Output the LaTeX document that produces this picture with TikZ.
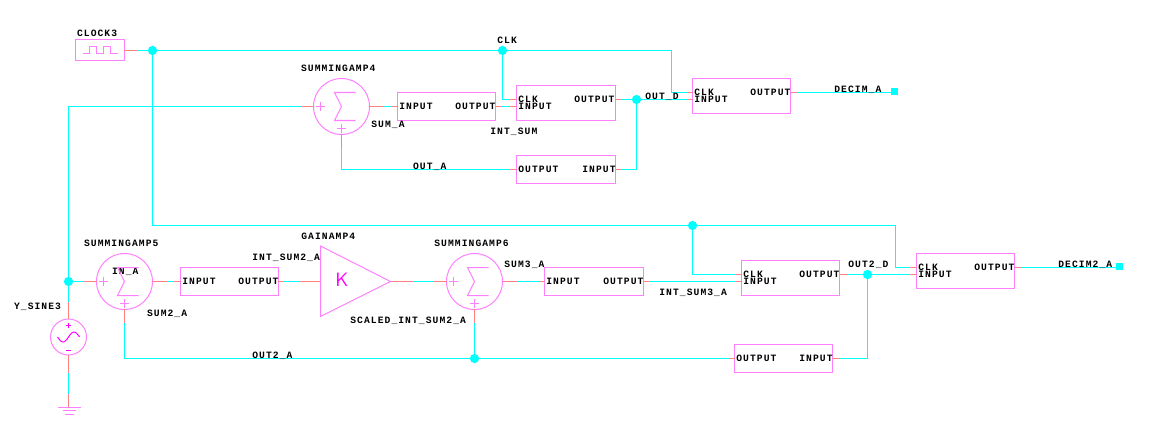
\documentclass[tikz,border=0pt]{standalone}
\usepackage{fontspec}
\setmonofont{Liberation Mono}[LetterSpace=11]
\definecolor{wirecyan}{HTML}{00FFFF}
\definecolor{stubred}{HTML}{FF8080}
\definecolor{partpink}{HTML}{FF80FF}
\definecolor{glyphpink}{HTML}{FF00FF}
\tikzset{
  wire/.style={wirecyan,line width=0.57pt},
  stub/.style={stubred,line width=0.57pt},
  part/.style={partpink,line width=0.57pt},
  blockbox/.style={draw=partpink,line width=0.57pt,inner sep=0pt,outer sep=0pt,minimum width=1.96cm,minimum height=0.56cm},
  regbox/.style={blockbox,minimum height=0.7cm},
  sumring/.style={circle,draw=partpink,line width=0.57pt,inner sep=0pt,outer sep=0pt,minimum size=1.12cm},
  joint/.style={circle,fill=wirecyan,inner sep=0pt,minimum size=0.185cm},
  portend/.style={rectangle,fill=wirecyan,inner sep=0pt,minimum size=0.14cm},
  tag/.style={anchor=west,inner sep=0pt,text height=3.6pt,text depth=0pt,font=\ttfamily\bfseries\fontsize{5.5}{5.5}\selectfont}
}
\begin{document}
\begin{tikzpicture}[x=0.02cm,y=-0.02cm]
  \useasboundingbox (0,0) rectangle (1149,446);

  % Parts, upper row
  \node[blockbox,minimum width=0.98cm,minimum height=0.42cm] (clock) at (100,50) {};
  \node[sumring] (sum4) at (341.5,106.5) {};
  \node[blockbox] (int4) at (446.5,106.5) {};
  \node[regbox,minimum width=1.98cm] (reg1) at (566,103) {};
  \node[blockbox,minimum width=1.98cm] (fb1) at (566,169.5) {};
  \node[regbox] (reg2) at (741.5,96) {};
  \node[portend] (out1) at (894.5,91.5) {};

  % Parts, lower row
  \node[sumring] (sum5) at (124.5,281.5) {};
  \node[blockbox] (int5) at (229.5,281.5) {};
  \node[sumring] (sum6) at (474.5,281.5) {};
  \node[blockbox,minimum width=1.98cm] (int6) at (594,281.5) {};
  \node[regbox] (reg3) at (790.5,278) {};
  \node[blockbox] (fb2) at (783.5,358.5) {};
  \node[regbox] (reg4) at (965.5,271) {};
  \node[portend] (out2) at (1119.5,266.5) {};
  \node[sumring,minimum size=0.72cm] (src) at (68.5,337) {};

  % Junctions
  \node[joint] (jclk1) at (152.5,50.5) {};
  \node[joint] (jclk2) at (502.5,50.5) {};
  \node[joint] (jclk3) at (692.5,225.5) {};
  \node[joint] (jout1) at (636.5,99.5) {};
  \node[joint] (jout2) at (867.5,274.5) {};
  \node[joint] (jfb2) at (474.5,358.5) {};
  \node[joint] (jsrc) at (68.5,281.5) {};

  % Bends and free ends
  \coordinate (bend1) at (671.5,92.5);
  \coordinate (bend2) at (152.5,225.5);
  \coordinate (bend3) at (895.5,267.5);
  \coordinate (bend4) at (124.5,358.5);
  \coordinate (gainin) at (320.5,281.5);
  \coordinate (gainout) at (390.5,281.5);
  \coordinate (gnd) at (68.5,407.5);

  % Pin names
  \node[tag] (i4in) at (399,106.5) {INPUT};
  \node[tag] (i4out) at (455,106.5) {OUTPUT};
  \node[tag] (r1clk) at (518,99.5) {CLK};
  \node[tag] (r1in) at (518,106.5) {INPUT};
  \node[tag] (r1out) at (574,99.5) {OUTPUT};
  \node[tag] (f1out) at (518,169.5) {OUTPUT};
  \node[tag] (f1in) at (582,169.5) {INPUT};
  \node[tag] (r2clk) at (694,92.5) {CLK};
  \node[tag] (r2in) at (694,99.5) {INPUT};
  \node[tag] (r2out) at (750,92.5) {OUTPUT};
  \node[tag] (i5in) at (182,281.5) {INPUT};
  \node[tag] (i5out) at (238,281.5) {OUTPUT};
  \node[tag] (i6in) at (546,281.5) {INPUT};
  \node[tag] (i6out) at (603,281.5) {OUTPUT};
  \node[tag] (r3clk) at (743,274.5) {CLK};
  \node[tag] (r3in) at (743,281.5) {INPUT};
  \node[tag] (r3out) at (799,274.5) {OUTPUT};
  \node[tag] (f2out) at (736,358.5) {OUTPUT};
  \node[tag] (f2in) at (799,358.5) {INPUT};
  \node[tag] (r4clk) at (918,267.5) {CLK};
  \node[tag] (r4in) at (918,274.5) {INPUT};
  \node[tag] (r4out) at (974,267.5) {OUTPUT};

  % Clock net
  \draw[wire] (clock.east |- jclk1) -- (jclk1) -- (jclk2) -| (bend1) -- (reg2.west |- r2clk);
  \draw[wire] (jclk2) |- (reg1.west |- r1clk);
  \draw[wire] (jclk1) -- (bend2) -- (jclk3) -| (bend3) -- (reg4.west |- r4clk);
  \draw[wire] (jclk3) |- (reg3.west |- r3clk);

  % Signal nets, upper row
  \draw[wire] (jsrc) |- (sum4.west);
  \draw[wire] (sum4.east) -- (int4.west);
  \draw[wire] (int4.east) -- (reg1.west |- r1in);
  \draw[wire] (reg1.east |- r1out) -- (jout1) -- (reg2.west |- r2in);
  \draw[wire] (jout1) |- (fb1.east);
  \draw[wire] (fb1.west) -| (sum4.south);
  \draw[wire] (reg2.east |- r2out) -- (out1.west |- r2out);

  % Signal nets, lower row
  \draw[wire] (jsrc) -- (sum5.west);
  \draw[wire] (jsrc) -- (src.north);
  \draw[wire] (src.south) -- (gnd);
  \draw[wire] (sum5.east) -- (int5.west);
  \draw[wire] (int5.east) -- (gainin);
  \draw[wire] (gainout) -- (sum6.west);
  \draw[wire] (sum6.east) -- (int6.west);
  \draw[wire] (int6.east) -- (reg3.west |- r3in);
  \draw[wire] (reg3.east |- r3out) -- (jout2) -- (reg4.west |- r4in);
  \draw[wire] (jout2) |- (fb2.east);
  \draw[wire] (fb2.west) -- (jfb2) -- (bend4) -- (sum5.south);
  \draw[wire] (jfb2) -- (sum6.south);
  \draw[wire] (reg4.east |- r4out) -- (out2.west |- r4out);

  % Red pin stubs
  \draw[stub] (clock.east |- jclk1) -- ++(14,0);
  \draw[stub] (reg2.west |- r2clk) -- ++(-6,0);
  \draw[stub] (reg2.west |- r2in) -- ++(-6,0);
  \draw[stub] (reg1.west |- r1clk) -- ++(-7,0);
  \draw[stub] (reg4.west |- r4clk) -- ++(-7,0);
  \draw[stub] (reg4.west |- r4in) -- ++(-7,0);
  \draw[stub] (reg3.west |- r3clk) -- ++(-6,0);
  \draw[stub] (reg3.west |- r3in) -- ++(-6,0);
  \draw[stub] (sum4.west) -- ++(-13,0);
  \draw[stub] (sum4.east) -- ++(15,0);
  \draw[stub] (int4.west) -- ++(-7,0);
  \draw[stub] (int4.east) -- ++(7,0);
  \draw[stub] (reg1.west |- r1in) -- ++(-7,0);
  \draw[stub] (reg1.east |- r1out) -- ++(6,0);
  \draw[stub] (fb1.east) -- ++(6,0);
  \draw[stub] (fb1.west) -- ++(-7,0);
  \draw[stub] (sum4.south) -- ++(0,15);
  \draw[stub] (reg2.east |- r2out) -- ++(7,0);
  \draw[stub] (sum5.west) -- ++(-14,0);
  \draw[stub] (sum5.east) -- ++(15,0);
  \draw[stub] (int5.west) -- ++(-7,0);
  \draw[stub] (int5.east) -- ++(6,0);
  \draw[stub] (gainin) -- ++(-21,0);
  \draw[stub] (gainout) -- ++(22,0);
  \draw[stub] (sum6.west) -- ++(-13,0);
  \draw[stub] (sum6.east) -- ++(15,0);
  \draw[stub] (int6.west) -- ++(-6,0);
  \draw[stub] (int6.east) -- ++(6,0);
  \draw[stub] (reg3.east |- r3out) -- ++(7,0);
  \draw[stub] (fb2.east) -- ++(7,0);
  \draw[stub] (fb2.west) -- ++(-6,0);
  \draw[stub] (reg4.east |- r4out) -- ++(7,0);
  \draw[stub] (sum5.south) -- ++(0,14);
  \draw[stub] (sum6.south) -- ++(0,14);
  \draw[stub] (src.north) -- ++(0,-17.5);
  \draw[stub] (src.south) -- ++(0,18);
  \draw[stub] (gnd) -- ++(0,-14);

  % Part and net names
  \node[tag] (lclock) at (76.7,33) {CLOCK3};
  \node[tag] (lsum4) at (300.7,68) {SUMMINGAMP4};
  \node[tag] (lsuma) at (371,124) {SUM\_A};
  \node[tag] (lintsum) at (490,131) {INT\_SUM};
  \node[tag] (lclk) at (497,40) {CLK};
  \node[tag] (loutd) at (645,96) {OUT\_D};
  \node[tag] (louta) at (412.7,166) {OUT\_A};
  \node[tag] (ldecim) at (834,89) {DECIM\_A};
  \node[tag] (lsum5) at (83.7,243) {SUMMINGAMP5};
  \node[tag] (lina) at (111.7,271) {IN\_A};
  \node[tag] (lsumb) at (146.7,313) {SUM2\_A};
  \node[tag] (lsine) at (13.7,306) {Y\_SINE3};
  \node[tag] (lintb) at (252,257) {INT\_SUM2\_A};
  \node[tag] (lgain) at (301,236) {GAINAMP4};
  \node[tag] (lscaled) at (350,320) {SCALED\_INT\_SUM2\_A};
  \node[tag] (loutb) at (252,355) {OUT2\_A};
  \node[tag] (lsum6) at (434,243) {SUMMINGAMP6};
  \node[tag] (lsumc) at (504,264) {SUM3\_A};
  \node[tag] (lintc) at (659,292) {INT\_SUM3\_A};
  \node[tag] (loute) at (848,264) {OUT2\_D};
  \node[tag] (ldecimb) at (1058,264) {DECIM2\_A};

  % Summing symbols
  \foreach \s in {sum4,sum5,sum6} {
    \draw[part,shift={(\s)}] (14,-14) -- (-7,-14) -- (0,0) -- (-7,14) -- (14,14);
    \draw[part,shift={(\s)}] (-25.5,0) -- (-16.5,0) (-21,-4.5) -- (-21,4.5);
    \draw[part,shift={(\s)}] (-4.5,22) -- (4.5,22) (0,17.5) -- (0,26.5);
  }

  % Gain triangle
  \draw[part] (gainin |- 0,246) -- (gainout) -- (gainin |- 0,316.5) -- cycle;
  \node[glyphpink,inner sep=0pt,font=\sffamily\fontsize{11}{11}\selectfont] (gaink) at (342,280) {K};

  % Clock symbol
  \draw[part] (82.5,53.5) -- (89.5,53.5) -- (89.5,46.5) -- (96.5,46.5) -- (96.5,53.5) -- (103.5,53.5) -- (103.5,46.5) -- (110.5,46.5) -- (110.5,53.5) -- (117.5,53.5);

  % Source symbol
  \draw[glyphpink,line width=0.8pt] (66,325.5) -- (71,325.5) (68.5,323) -- (68.5,328);
  \draw[glyphpink,line width=0.8pt] (66,350.5) -- (71,350.5);
  \draw[glyphpink,line width=0.57pt,domain=-11:11,samples=40] plot ({68.5+\x},{337-5*sin(\x*16.4)});

  % Ground
  \draw[part] (57.5,407.5) -- (gnd) -- (80.5,407.5);
  \draw[part] (62.5,410.5) -- (75.5,410.5);
  \draw[part] (64.5,414.5) -- (73.5,414.5);
\end{tikzpicture}
\end{document}
